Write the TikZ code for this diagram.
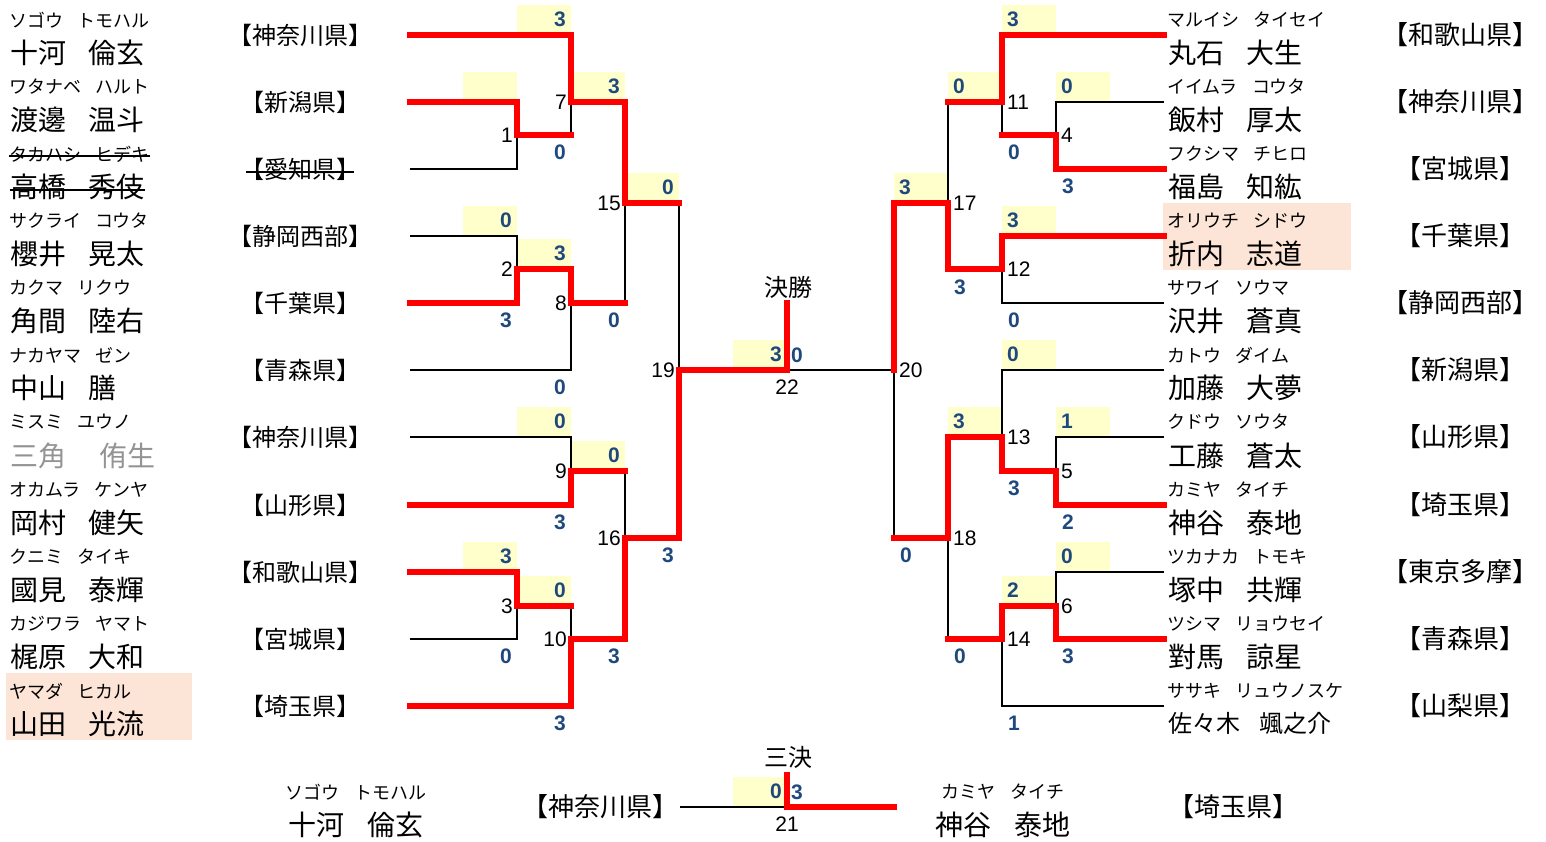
\documentclass[tikz,border=0pt]{standalone}
\usepackage{fontspec}
\setmainfont{Liberation Sans}
\newfontfamily\jpfont{Noto Sans CJK JP}
\usepackage{xcolor}
\usetikzlibrary{positioning}

\definecolor{winred}{RGB}{255,0,0}
\definecolor{scoreblue}{RGB}{31,73,125}
\definecolor{scorefill}{RGB}{255,255,204}
\definecolor{finalfill}{RGB}{252,228,214}

\newcommand{\ngap}{\hspace{0.8em}}

\tikzset{
    lost/.style={line width=2.5pt, line join=miter},
    won/.style={line width=6pt, draw=winred, line cap=rect, line join=miter},
    mnum/.style={font=\fontsize{21}{21}\selectfont, inner sep=0pt},
    kana/.style={font=\jpfont\fontsize{18}{18}\selectfont, anchor=west, inner sep=0pt},
    kanji/.style={font=\jpfont\fontsize{28}{28}\selectfont, anchor=west, inner sep=0pt},
    pref/.style={font=\jpfont\fontsize{24}{24}\selectfont, inner sep=0pt},
    strike/.style={line width=1.3pt}
}

\begin{document}
\begin{tikzpicture}[x=1pt, y=-1pt]
        \useasboundingbox (0,0) rectangle (1546,842);

        % finalists
        \fill[finalfill] (6,673) rectangle (192,740);
        \fill[finalfill] (1163,203) rectangle (1351,270);

        \foreach \i/\y in {1/35,2/102,3/169,4/236,5/303,6/370,7/437,8/505,9/572,10/639,11/706} {
            \coordinate (L\i) at (410,\y);
            \coordinate (R\i) at (1164,\y);
        }

        \coordinate (m1)  at (517,135);
        \coordinate (m2)  at (517,269);
        \coordinate (m3)  at (517,606);
        \coordinate (m7)  at (571,102);
        \coordinate (m8)  at (571,303);
        \coordinate (m9)  at (571,471);
        \coordinate (m10) at (571,639);
        \coordinate (m15) at (625,203);
        \coordinate (m16) at (625,538);
        \coordinate (m19) at (679,370);

        \coordinate (n4)  at (1056,135);
        \coordinate (n5)  at (1056,471);
        \coordinate (n6)  at (1056,606);
        \coordinate (n11) at (1002,102);
        \coordinate (n12) at (1002,269);
        \coordinate (n13) at (1002,437);
        \coordinate (n14) at (1002,639);
        \coordinate (n17) at (948,203);
        \coordinate (n18) at (948,538);
        \coordinate (n20) at (894,370);

        \coordinate (fin)    at (787,370);
        \coordinate (fintop) at (787,303);
        \coordinate (thL)      at (680,807);
        \coordinate (thR)      at (894,807);
        \coordinate (third)    at (787,807);
        \coordinate (thirdtop) at (787,775);

        % score boxes
        \begin{scope}[every node/.style={fill=scorefill, minimum height=29pt, text width=44pt,
                        inner xsep=5pt, inner ysep=0pt, text=scoreblue,
                        font=\bfseries\fontsize{21}{21}\selectfont}]
            \node[anchor=south east, align=right] (b1)  at (517,101) {};
            \node[anchor=south east, align=right] (b2)  at (517,235) {0};
            \node[anchor=south east, align=right] (b3)  at (517,571) {3};
            \node[anchor=south east, align=right] (b7)  at (571,34)  {3};
            \node[anchor=south east, align=right] (b8)  at (571,268) {3};
            \node[anchor=south east, align=right] (b9)  at (571,436) {0};
            \node[anchor=south east, align=right] (b10) at (571,605) {0};
            \node[anchor=south east, align=right] (b15) at (625,101) {3};
            \node[anchor=south east, align=right] (b16) at (625,470) {0};
            \node[anchor=south east, align=right] (b19) at (679,202) {0};
            \node[anchor=south east, align=right] (b22) at (787,369) {3};
            \node[anchor=south east, align=right] (b21) at (787,806) {0};

            \node[anchor=south west, align=left] (b4)  at (1056,101) {0};
            \node[anchor=south west, align=left] (b5)  at (1056,436) {1};
            \node[anchor=south west, align=left] (b6)  at (1056,571) {0};
            \node[anchor=south west, align=left] (b11) at (1002,34)  {3};
            \node[anchor=south west, align=left] (b12) at (1002,235) {3};
            \node[anchor=south west, align=left] (b13) at (1002,369) {0};
            \node[anchor=south west, align=left] (b14) at (1002,605) {2};
            \node[anchor=south west, align=left] (b17) at (948,101)  {0};
            \node[anchor=south west, align=left] (b18) at (948,436)  {3};
            \node[anchor=south west, align=left] (b20) at (894,202)  {3};
        \end{scope}

        % bracket
        \draw[lost] (L2) -| (m1)  (L3) -| (m1)
                    (L4) -| (m2)  (L5) -| (m2)
                    (L9) -| (m3)  (L10) -| (m3)
                    (L1) -| (m7)  (m1) -| (m7)
                    (m2) -| (m8)  (L6) -| (m8)
                    (L7) -| (m9)  (L8) -| (m9)
                    (m3) -| (m10) (L11) -| (m10)
                    (m7) -| (m15) (m8) -| (m15)
                    (m9) -| (m16) (m10) -| (m16)
                    (m15) -| (m19) (m16) -| (m19);
        \draw[lost] (R2) -| (n4)  (R3) -| (n4)
                    (R7) -| (n5)  (R8) -| (n5)
                    (R9) -| (n6)  (R10) -| (n6)
                    (R1) -| (n11) (n4) -| (n11)
                    (R4) -| (n12) (R5) -| (n12)
                    (R6) -| (n13) (n5) -| (n13)
                    (n6) -| (n14) (R11) -| (n14)
                    (n11) -| (n17) (n12) -| (n17)
                    (n13) -| (n18) (n14) -| (n18)
                    (n17) -| (n20) (n18) -| (n20);
        \draw[lost] (n20) -- (fin);
        \draw[lost] (thL) -- (third);

        \draw[won] (L2) -| (m1)  (L5) -| (m2)  (L9) -| (m3)
                   (L1) -| (m7)  (m2) -| (m8)  (L8) -| (m9)  (L11) -| (m10)
                   (m7) -| (m15) (m10) -| (m16) (m16) -| (m19);
        \draw[won] (m1) -- (m1 -| m7)  (m3) -- (m3 -| m10)
                   (m8) -- (m8 -| m15) (m9) -- (m9 -| m16) (m15) -- (m15 -| m19);
        \draw[won] (R3) -| (n4)  (R8) -| (n5)  (R10) -| (n6)
                   (R1) -| (n11) (R4) -| (n12) (n5) -| (n13) (n6) -| (n14)
                   (n12) -| (n17) (n13) -| (n18) (n17) -| (n20);
        \draw[won] (n4) -- (n4 -| n11)  (n11) -- (n11 -| n17)
                   (n14) -- (n14 -| n18) (n18) -- (n18 -| n20);
        \draw[won] (m19) -- (fin) -- (fintop);
        \draw[won] (thR) -- (third) -- (thirdtop);

        % match numbers
        \node[mnum, left=4pt of m1]  (t1)  {1};
        \node[mnum, left=4pt of m2]  (t2)  {2};
        \node[mnum, left=4pt of m3]  (t3)  {3};
        \node[mnum, left=4pt of m7]  (t7)  {7};
        \node[mnum, left=4pt of m8]  (t8)  {8};
        \node[mnum, left=4pt of m9]  (t9)  {9};
        \node[mnum, left=4pt of m10] (t10) {10};
        \node[mnum, left=4pt of m15] (t15) {15};
        \node[mnum, left=4pt of m16] (t16) {16};
        \node[mnum, left=4pt of m19] (t19) {19};
        \node[mnum, right=5pt of n4]  (t4)  {4};
        \node[mnum, right=5pt of n5]  (t5)  {5};
        \node[mnum, right=5pt of n6]  (t6)  {6};
        \node[mnum, right=5pt of n11] (t11) {11};
        \node[mnum, right=5pt of n12] (t12) {12};
        \node[mnum, right=5pt of n13] (t13) {13};
        \node[mnum, right=5pt of n14] (t14) {14};
        \node[mnum, right=5pt of n17] (t17) {17};
        \node[mnum, right=5pt of n18] (t18) {18};
        \node[mnum, right=5pt of n20] (t20) {20};
        \node[mnum, below=10pt of fin]   (t22) {22};
        \node[mnum, below=10pt of third] (t21) {21};
        \node[font=\jpfont\fontsize{24}{24}\selectfont, inner sep=0pt] (finlabel)   at (788,287) {決勝};
        \node[font=\jpfont\fontsize{24}{24}\selectfont, inner sep=0pt] (thirdlabel) at (788,757) {三決};

        % lower scores
        \begin{scope}[every node/.style={inner sep=0pt, text=scoreblue,
                        font=\bfseries\fontsize{21}{21}\selectfont}]
            \node[anchor=east] (s2)  at (512,320) {3};
            \node[anchor=east] (s3)  at (512,656) {0};
            \node[anchor=east] (s7)  at (566,152) {0};
            \node[anchor=east] (s8)  at (566,387) {0};
            \node[anchor=east] (s9)  at (566,522) {3};
            \node[anchor=east] (s10) at (566,723) {3};
            \node[anchor=east] (s15) at (620,320) {0};
            \node[anchor=east] (s16) at (620,656) {3};
            \node[anchor=east] (s19) at (674,555) {3};

            \node[anchor=west] (s4)  at (1062,186) {3};
            \node[anchor=west] (s5)  at (1062,522) {2};
            \node[anchor=west] (s6)  at (1062,656) {3};
            \node[anchor=west] (s11) at (1008,152) {0};
            \node[anchor=west] (s12) at (1008,320) {0};
            \node[anchor=west] (s13) at (1008,488) {3};
            \node[anchor=west] (s14) at (1008,723) {1};
            \node[anchor=west] (s17) at (954,287)  {3};
            \node[anchor=west] (s18) at (954,656)  {0};
            \node[anchor=west] (s20) at (900,555)  {0};
            \node[anchor=west] (s22) at (791,355)  {0};
            \node[anchor=west] (s21) at (791,792)  {3};
        \end{scope}

        % left players
        \node[kana]  (kanaL1)  at (9,20)   {ソゴウ\ngap トモハル};
        \node[kanji] (nameL1)  at (10,53)  {十河\ngap 倫玄};
        \node[kana]  (kanaL2)  at (9,87)   {ワタナベ\ngap ハルト};
        \node[kanji] (nameL2)  at (10,120) {渡邊\ngap 温斗};
        \node[kana]  (kanaL3)  at (9,154)  {タカハシ\ngap ヒデキ};
        \node[kanji] (nameL3)  at (10,187) {高橋\ngap 秀伎};
        \node[kana]  (kanaL4)  at (9,221)  {サクライ\ngap コウタ};
        \node[kanji] (nameL4)  at (10,254) {櫻井\ngap 晃太};
        \node[kana]  (kanaL5)  at (9,288)  {カクマ\ngap リクウ};
        \node[kanji] (nameL5)  at (10,321) {角間\ngap 陸右};
        \node[kana]  (kanaL6)  at (9,355)  {ナカヤマ\ngap ゼン};
        \node[kanji] (nameL6)  at (10,388) {中山\ngap 膳};
        \node[kana]  (kanaL7)  at (9,422)  {ミスミ\ngap ユウノ};
        \node[kanji, text=gray!85] (nameL7) at (10,456) {三角\hspace{1.2em}侑生};
        \node[kana]  (kanaL8)  at (9,490)  {オカムラ\ngap ケンヤ};
        \node[kanji] (nameL8)  at (10,523) {岡村\ngap 健矢};
        \node[kana]  (kanaL9)  at (9,557)  {クニミ\ngap タイキ};
        \node[kanji] (nameL9)  at (10,590) {國見\ngap 泰輝};
        \node[kana]  (kanaL10) at (9,624)  {カジワラ\ngap ヤマト};
        \node[kanji] (nameL10) at (10,657) {梶原\ngap 大和};
        \node[kana]  (kanaL11) at (9,691)  {ヤマダ\ngap ヒカル};
        \node[kanji] (nameL11) at (10,724) {山田\ngap 光流};

        \node[pref] (prefL1)  at (300,35)  {【神奈川県】};
        \node[pref] (prefL2)  at (300,102) {【新潟県】};
        \node[pref] (prefL3)  at (300,169) {【愛知県】};
        \node[pref] (prefL4)  at (300,236) {【静岡西部】};
        \node[pref] (prefL5)  at (300,303) {【千葉県】};
        \node[pref] (prefL6)  at (300,370) {【青森県】};
        \node[pref] (prefL7)  at (300,437) {【神奈川県】};
        \node[pref] (prefL8)  at (300,505) {【山形県】};
        \node[pref] (prefL9)  at (300,572) {【和歌山県】};
        \node[pref] (prefL10) at (300,639) {【宮城県】};
        \node[pref] (prefL11) at (300,706) {【埼玉県】};

        % withdrawn
        \draw[strike] ([yshift=-2pt]kanaL3.west) -- ([yshift=-2pt]kanaL3.east);
        \draw[strike] ([yshift=-3pt]nameL3.west) -- ([yshift=-3pt]nameL3.east);
        \draw[strike] ([xshift=6pt,yshift=-3pt]prefL3.west) -- ([xshift=-6pt,yshift=-3pt]prefL3.east);

        % right players
        \node[kana]  (kanaR1)  at (1167,20)  {マルイシ\ngap タイセイ};
        \node[kanji] (nameR1)  at (1168,53)  {丸石\ngap 大生};
        \node[kana]  (kanaR2)  at (1167,87)  {イイムラ\ngap コウタ};
        \node[kanji] (nameR2)  at (1168,120) {飯村\ngap 厚太};
        \node[kana]  (kanaR3)  at (1167,154) {フクシマ\ngap チヒロ};
        \node[kanji] (nameR3)  at (1168,187) {福島\ngap 知紘};
        \node[kana]  (kanaR4)  at (1167,221) {オリウチ\ngap シドウ};
        \node[kanji] (nameR4)  at (1168,254) {折内\ngap 志道};
        \node[kana]  (kanaR5)  at (1167,288) {サワイ\ngap ソウマ};
        \node[kanji] (nameR5)  at (1168,321) {沢井\ngap 蒼真};
        \node[kana]  (kanaR6)  at (1167,355) {カトウ\ngap ダイム};
        \node[kanji] (nameR6)  at (1168,388) {加藤\ngap 大夢};
        \node[kana]  (kanaR7)  at (1167,422) {クドウ\ngap ソウタ};
        \node[kanji] (nameR7)  at (1168,456) {工藤\ngap 蒼太};
        \node[kana]  (kanaR8)  at (1167,490) {カミヤ\ngap タイチ};
        \node[kanji] (nameR8)  at (1168,523) {神谷\ngap 泰地};
        \node[kana]  (kanaR9)  at (1167,557) {ツカナカ\ngap トモキ};
        \node[kanji] (nameR9)  at (1168,590) {塚中\ngap 共輝};
        \node[kana]  (kanaR10) at (1167,624) {ツシマ\ngap リョウセイ};
        \node[kanji] (nameR10) at (1168,657) {對馬\ngap 諒星};
        \node[kana]  (kanaR11) at (1167,691) {ササキ\ngap リュウノスケ};
        \node[kanji, font=\jpfont\fontsize{24}{24}\selectfont] (nameR11) at (1168,724) {佐々木\ngap 颯之介};

        \begin{scope}[every node/.style={pref, font=\jpfont\fontsize{26}{26}\selectfont}]
            \node (prefR1)  at (1460,35)  {【和歌山県】};
            \node (prefR2)  at (1460,102) {【神奈川県】};
            \node (prefR3)  at (1460,169) {【宮城県】};
            \node (prefR4)  at (1460,236) {【千葉県】};
            \node (prefR5)  at (1460,303) {【静岡西部】};
            \node (prefR6)  at (1460,370) {【新潟県】};
            \node (prefR7)  at (1460,437) {【山形県】};
            \node (prefR8)  at (1460,505) {【埼玉県】};
            \node (prefR9)  at (1460,572) {【東京多摩】};
            \node (prefR10) at (1460,639) {【青森県】};
            \node (prefR11) at (1460,706) {【山梨県】};
        \end{scope}

        % third place
        \node[kana, anchor=center]  (kanaT1) at (356,792)  {ソゴウ\ngap トモハル};
        \node[kanji, anchor=center] (nameT1) at (356,825)  {十河\ngap 倫玄};
        \node[pref, font=\jpfont\fontsize{26}{26}\selectfont] (prefT1) at (600,807) {【神奈川県】};
        \node[kana, anchor=center]  (kanaT2) at (1003,792) {カミヤ\ngap タイチ};
        \node[kanji, anchor=center] (nameT2) at (1003,825) {神谷\ngap 泰地};
        \node[pref, font=\jpfont\fontsize{26}{26}\selectfont] (prefT2) at (1233,807) {【埼玉県】};
    \end{tikzpicture}
\end{document}
